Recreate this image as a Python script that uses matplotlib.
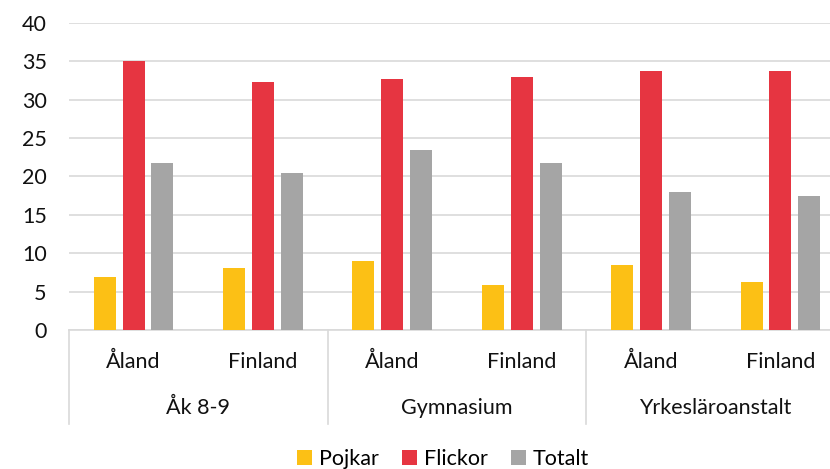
import numpy as np
import matplotlib.pyplot as plt
from matplotlib.transforms import blended_transform_factory

plt.rcParams['font.family'] = ['Lato', 'DejaVu Sans']

# Data
groups = ['Åk 8-9', 'Gymnasium', 'Yrkesläroanstalt']
regions = ['Åland', 'Finland', 'Åland', 'Finland', 'Åland', 'Finland']
pojkar = [6.9, 8.1, 9.0, 5.8, 8.5, 6.3]
flickor = [35.0, 32.3, 32.7, 33.0, 33.7, 33.7]
totalt = [21.7, 20.5, 23.5, 21.8, 18.0, 17.4]

series = [('Pojkar', pojkar, '#FCC015'),
          ('Flickor', flickor, '#E63541'),
          ('Totalt', totalt, '#A5A5A5')]

fs = 15.5
txt = '#111111'

fig = plt.figure(figsize=(8.3, 4.69), dpi=100)
# axes runs a bit past the right edge of the figure, like the source
ax = fig.add_axes([0.0831, 0.2964, 0.935, 0.6546])

x = np.arange(len(regions))
width = 0.17
step = 0.223
for i, (name, vals, color) in enumerate(series):
    ax.bar(x + (i - 1) * step, vals, width, color=color, label=name, zorder=3)

ax.set_xlim(-0.5, len(regions) - 0.5)
ax.set_ylim(0, 40)
ax.set_yticks(np.arange(0, 41, 5))
ax.yaxis.grid(True, color='#D9D9D9', linewidth=1.2, zorder=0)
for s in ['top', 'right', 'left']:
    ax.spines[s].set_visible(False)
ax.spines['bottom'].set_color('#D9D9D9')
ax.spines['bottom'].set_linewidth(1.2)
ax.tick_params(axis='y', length=0, labelsize=fs, pad=16, labelcolor=txt)
ax.tick_params(axis='x', length=0)
ax.set_xticks(x)
ax.set_xticklabels([])

trans = blended_transform_factory(ax.transData, ax.transAxes)
for xi, lab in zip(x, regions):
    ax.text(xi, -0.104, lab, transform=trans, ha='center', va='center',
            fontsize=fs, color=txt)
for gi, g in enumerate(groups):
    ax.text(2 * gi + 0.5, -0.254, g, transform=trans, ha='center', va='center',
            fontsize=fs, color=txt)
for bx in [-0.5, 1.5, 3.5, 5.5]:
    ax.plot([bx, bx], [0, -0.306], transform=trans, color='#D9D9D9',
            linewidth=1.2, clip_on=False)

fig.legend(loc='center', bbox_to_anchor=(443 / 830, 1 - 459 / 469), ncol=3,
           frameon=False, fontsize=fs, handlelength=0.7, handleheight=0.7,
           handletextpad=0.3, columnspacing=1.1)

fig.savefig('out.png', dpi=100)
